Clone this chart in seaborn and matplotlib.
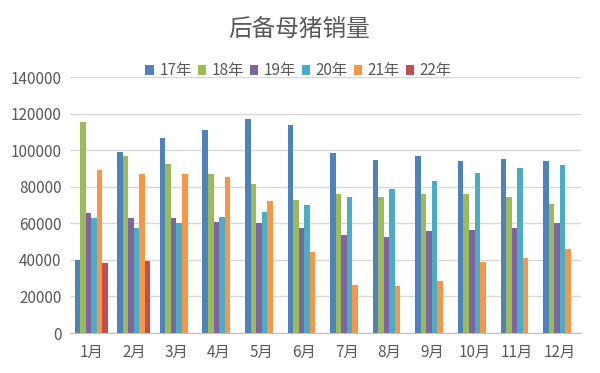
import pandas as pd
import seaborn as sns
import matplotlib.pyplot as plt

# monthly sales of replacement gilts
months = ["1月", "2月", "3月", "4月", "5月", "6月", "7月", "8月", "9月", "10月", "11月", "12月"]
years = ["17年", "18年", "19年", "20年", "21年", "22年"]

sales_17 = [40000, 99000, 106600, 111000, 117000, 113600, 98300, 94600, 97000, 94300, 95300, 94300]
sales_18 = [115200, 97000, 92600, 87000, 81300, 72700, 76000, 74400, 76000, 76000, 74400, 70500]
sales_19 = [65600, 63100, 62700, 60700, 60000, 57200, 53400, 52300, 55600, 56300, 57400, 60000]
sales_20 = [63100, 57400, 60200, 63600, 66000, 70000, 74600, 78900, 83300, 87700, 90200, 91700]
sales_21 = [89300, 87000, 87000, 85500, 72000, 44500, 26400, 25700, 28300, 38800, 41000, 45800]
sales_22 = [38300, 39600]

colors = ["#4F81BD", "#9BBB59", "#8064A2", "#4BACC6", "#F79646", "#C0504D"]

rows = []
for year, vals in zip(years, [sales_17, sales_18, sales_19, sales_20, sales_21, sales_22]):
    for m, v in zip(months, vals):
        rows.append({"month": m, "year": year, "sales": v})
df = pd.DataFrame(rows)

sns.set_style("white")
plt.rcParams["font.family"] = ["Noto Sans CJK SC", "DejaVu Sans"]

fig = plt.figure(figsize=(6, 3.73), dpi=100)
ax = fig.add_axes([70 / 600, 40 / 373, 511 / 600, 256 / 373])

sns.barplot(data=df, x="month", y="sales", hue="year", order=months,
            hue_order=years, palette=colors, width=0.78, saturation=1,
            errorbar=None, linewidth=0, edgecolor="none", ax=ax)

ax.set_ylim(0, 140000)
ax.set_yticks(range(0, 140001, 20000))
ax.set_xlim(-0.5, 11.5)
ax.yaxis.grid(True, color="#D9D9D9", linewidth=1)
ax.set_axisbelow(True)
for side in ["top", "right", "left"]:
    ax.spines[side].set_visible(False)
ax.spines["bottom"].set_color("#BFBFBF")
ax.tick_params(axis="both", length=0, labelsize=11, colors="#595959")
ax.tick_params(axis="x", pad=8)
ax.tick_params(axis="y", pad=6)
ax.set_xlabel("")
ax.set_ylabel("")

handles, labels = ax.get_legend_handles_labels()
ax.get_legend().remove()
fig.legend(handles, labels, loc="center", bbox_to_anchor=(0.4975, 0.81), ncol=6,
           frameon=False, fontsize=11, handlelength=0.55, handleheight=0.55,
           handletextpad=0.35, columnspacing=0.4, labelcolor="#595959")

fig.text(0.498, 1 - 29 / 373, "后备母猪销量", ha="center", va="center",
         fontsize=17, color="#595959", fontweight="light")

fig.savefig("out.png", dpi=100)
